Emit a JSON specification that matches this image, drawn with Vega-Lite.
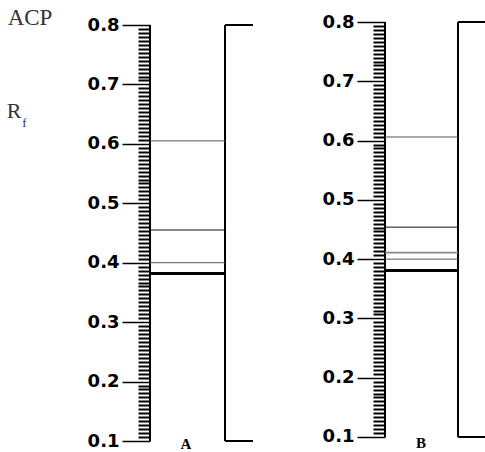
{
  "$schema": "https://vega.github.io/schema/vega-lite/v6.json",
  "width": 335,
  "height": 419,
  "autosize": "none",
  "padding": {"left": 150, "top": 22, "right": 0, "bottom": 11},
  "background": "white",
  "config": {"view": {"stroke": null}},
  "datasets": {
    "bands": [
      {"panel": "A", "rf": 0.605, "kind": "weak"},
      {"panel": "A", "rf": 0.455, "kind": "medium"},
      {"panel": "A", "rf": 0.400, "kind": "weak"},
      {"panel": "A", "rf": 0.382, "kind": "strong"},
      {"panel": "B", "rf": 0.606, "kind": "weak"},
      {"panel": "B", "rf": 0.454, "kind": "medium"},
      {"panel": "B", "rf": 0.411, "kind": "faint"},
      {"panel": "B", "rf": 0.400, "kind": "weak"},
      {"panel": "B", "rf": 0.381, "kind": "strong"}
    ],
    "plates": [
      {"panel": "A", "origin": 0.1, "front": 0.8},
      {"panel": "B", "origin": 0.1, "front": 0.8}
    ]
  },
  "layer": [
    {
      "layer": [
        {
          "data": {"name": "plates"},
          "transform": [{"filter": "datum.panel == 'A'"}],
          "mark": {"type": "rule", "color": "black", "strokeWidth": 2},
          "encoding": {
            "x": {"datum": 0, "type": "quantitative", "scale": {"domain": [0, 6.7], "nice": false, "zero": false}, "axis": null},
            "y": {
              "field": "origin", "type": "quantitative",
              "scale": {"domain": [0.1, 0.80505], "nice": false, "zero": false},
              "axis": {
                "orient": "left", "title": null, "domain": false, "grid": false, "tickCount": 500,
                "values": [0.1,0.106667,0.113333,0.12,0.126667,0.133333,0.14,0.146667,0.153333,0.16,0.166667,0.173333,0.18,0.186667,0.193333,0.2,0.206667,0.213333,0.22,0.226667,0.233333,0.24,0.246667,0.253333,0.26,0.266667,0.273333,0.28,0.286667,0.293333,0.3,0.306667,0.313333,0.32,0.326667,0.333333,0.34,0.346667,0.353333,0.36,0.366667,0.373333,0.38,0.386667,0.393333,0.4,0.406667,0.413333,0.42,0.426667,0.433333,0.44,0.446667,0.453333,0.46,0.466667,0.473333,0.48,0.486667,0.493333,0.5,0.506667,0.513333,0.52,0.526667,0.533333,0.54,0.546667,0.553333,0.56,0.566667,0.573333,0.58,0.586667,0.593333,0.6,0.606667,0.613333,0.62,0.626667,0.633333,0.64,0.646667,0.653333,0.66,0.666667,0.673333,0.68,0.686667,0.693333,0.7,0.706667,0.713333,0.72,0.726667,0.733333,0.74,0.746667,0.753333,0.76,0.766667,0.773333,0.78,0.786667,0.793333,0.8],
                "tickSize": {"condition": {"test": "abs(datum.value*10 - round(datum.value*10)) < 0.001", "value": 28}, "value": 12},
                "tickWidth": {"condition": {"test": "abs(datum.value*10 - round(datum.value*10)) < 0.001", "value": 1.5}, "value": 2},
                "tickColor": "black",
                "labelExpr": "abs(datum.value*10 - round(datum.value*10)) < 0.001 ? format(datum.value, '.1f') : ''",
                "labelFont": "DejaVu Sans", "labelFontWeight": "bold", "labelFontSize": 18, "labelColor": "black",
                "labelPadding": 3, "labelOverlap": false, "labelFlush": false, "labelBound": false
              }
            },
            "y2": {"field": "front"}
          }
        },
        {
          "data": {"name": "plates"},
          "transform": [{"filter": "datum.panel == 'A'"}],
          "mark": {"type": "rule", "color": "black", "strokeWidth": 2},
          "encoding": {
            "x": {"datum": 1.5, "type": "quantitative", "axis": null},
            "y": {"field": "origin", "type": "quantitative"},
            "y2": {"field": "front"}
          }
        },
        {
          "data": {"name": "plates"},
          "transform": [{"filter": "datum.panel == 'A'"}],
          "mark": {"type": "rule", "color": "black", "strokeWidth": 2},
          "encoding": {
            "x": {"datum": 1.5, "type": "quantitative", "axis": null},
            "x2": {"datum": 2.06},
            "y": {"field": "front", "type": "quantitative"}
          }
        },
        {
          "data": {"name": "plates"},
          "transform": [{"filter": "datum.panel == 'A'"}],
          "mark": {"type": "rule", "color": "black", "strokeWidth": 2},
          "encoding": {
            "x": {"datum": 1.5, "type": "quantitative", "axis": null},
            "x2": {"datum": 2.06},
            "y": {"field": "origin", "type": "quantitative"}
          }
        },
        {
          "data": {"name": "bands"},
          "transform": [{"filter": "datum.panel == 'A'"}],
          "mark": {"type": "rule"},
          "encoding": {
            "x": {"datum": 0, "type": "quantitative", "axis": null},
            "x2": {"datum": 1.5},
            "y": {"field": "rf", "type": "quantitative"},
            "color": {"field": "kind", "type": "nominal", "scale": {"domain": ["weak", "medium", "faint", "strong"], "range": ["#555555", "#111111", "#888888", "#000000"]}, "legend": null},
            "strokeWidth": {"condition": [{"test": "datum.kind == 'strong'", "value": 3}, {"test": "datum.kind == 'faint'", "value": 1.6}], "value": 1}
          }
        },
        {
          "data": {"name": "plates"},
          "transform": [{"filter": "datum.panel == 'A'"}],
          "mark": {"type": "text", "font": "Liberation Serif", "fontWeight": "bold", "fontSize": 15, "color": "black", "baseline": "middle", "align": "center", "dy": 3},
          "encoding": {
            "x": {"datum": 0.72, "type": "quantitative", "axis": null},
            "y": {"field": "origin", "type": "quantitative"},
            "text": {"field": "panel"}
          }
        },
        {
          "data": {"name": "plates"},
          "transform": [{"filter": "datum.panel == 'A'"}],
          "mark": {"type": "text", "font": "Liberation Serif", "fontSize": 23, "color": "#333333", "baseline": "middle", "align": "center"},
          "encoding": {
            "x": {"datum": -2.4, "type": "quantitative", "axis": null},
            "y": {"datum": 0.8126, "type": "quantitative"},
            "text": {"value": "ACP"}
          }
        },
        {
          "data": {"name": "plates"},
          "transform": [{"filter": "datum.panel == 'A'"}],
          "mark": {"type": "text", "font": "Liberation Serif", "fontSize": 22, "color": "#333333", "baseline": "middle", "align": "center"},
          "encoding": {
            "x": {"datum": -2.72, "type": "quantitative", "axis": null},
            "y": {"datum": 0.6561, "type": "quantitative"},
            "text": {"value": "R"}
          }
        },
        {
          "data": {"name": "plates"},
          "transform": [{"filter": "datum.panel == 'A'"}],
          "mark": {"type": "text", "font": "Liberation Serif", "fontSize": 13, "color": "#333333", "baseline": "middle", "align": "center"},
          "encoding": {
            "x": {"datum": -2.51, "type": "quantitative", "axis": null},
            "y": {"datum": 0.6359, "type": "quantitative"},
            "text": {"value": "f"}
          }
        }
      ]
    },
    {
      "layer": [
        {
          "data": {"name": "plates"},
          "transform": [{"filter": "datum.panel == 'B'"}],
          "mark": {"type": "rule", "color": "black", "strokeWidth": 2},
          "encoding": {
            "x": {"datum": 4.7, "type": "quantitative", "axis": null},
            "y": {
              "field": "origin", "type": "quantitative",
              "scale": {"domain": [0.09325, 0.8], "nice": false, "zero": false},
              "axis": {
                "orient": "left", "offset": -235, "title": null, "domain": false, "grid": false, "tickCount": 500,
                "values": [0.1,0.106667,0.113333,0.12,0.126667,0.133333,0.14,0.146667,0.153333,0.16,0.166667,0.173333,0.18,0.186667,0.193333,0.2,0.206667,0.213333,0.22,0.226667,0.233333,0.24,0.246667,0.253333,0.26,0.266667,0.273333,0.28,0.286667,0.293333,0.3,0.306667,0.313333,0.32,0.326667,0.333333,0.34,0.346667,0.353333,0.36,0.366667,0.373333,0.38,0.386667,0.393333,0.4,0.406667,0.413333,0.42,0.426667,0.433333,0.44,0.446667,0.453333,0.46,0.466667,0.473333,0.48,0.486667,0.493333,0.5,0.506667,0.513333,0.52,0.526667,0.533333,0.54,0.546667,0.553333,0.56,0.566667,0.573333,0.58,0.586667,0.593333,0.6,0.606667,0.613333,0.62,0.626667,0.633333,0.64,0.646667,0.653333,0.66,0.666667,0.673333,0.68,0.686667,0.693333,0.7,0.706667,0.713333,0.72,0.726667,0.733333,0.74,0.746667,0.753333,0.76,0.766667,0.773333,0.78,0.786667,0.793333,0.8],
                "tickSize": {"condition": {"test": "abs(datum.value*10 - round(datum.value*10)) < 0.001", "value": 28}, "value": 12},
                "tickWidth": {"condition": {"test": "abs(datum.value*10 - round(datum.value*10)) < 0.001", "value": 1.5}, "value": 2},
                "tickColor": "black",
                "labelExpr": "abs(datum.value*10 - round(datum.value*10)) < 0.001 ? format(datum.value, '.1f') : ''",
                "labelFont": "DejaVu Sans", "labelFontWeight": "bold", "labelFontSize": 18, "labelColor": "black",
                "labelPadding": 3, "labelOverlap": false, "labelFlush": false, "labelBound": false
              }
            },
            "y2": {"field": "front"}
          }
        },
        {
          "data": {"name": "plates"},
          "transform": [{"filter": "datum.panel == 'B'"}],
          "mark": {"type": "rule", "color": "black", "strokeWidth": 2},
          "encoding": {
            "x": {"datum": 6.16, "type": "quantitative", "axis": null},
            "y": {"field": "origin", "type": "quantitative"},
            "y2": {"field": "front"}
          }
        },
        {
          "data": {"name": "plates"},
          "transform": [{"filter": "datum.panel == 'B'"}],
          "mark": {"type": "rule", "color": "black", "strokeWidth": 2},
          "encoding": {
            "x": {"datum": 6.16, "type": "quantitative", "axis": null},
            "x2": {"datum": 6.7},
            "y": {"field": "front", "type": "quantitative"}
          }
        },
        {
          "data": {"name": "plates"},
          "transform": [{"filter": "datum.panel == 'B'"}],
          "mark": {"type": "rule", "color": "black", "strokeWidth": 2},
          "encoding": {
            "x": {"datum": 6.16, "type": "quantitative", "axis": null},
            "x2": {"datum": 6.7},
            "y": {"field": "origin", "type": "quantitative"}
          }
        },
        {
          "data": {"name": "bands"},
          "transform": [{"filter": "datum.panel == 'B'"}],
          "mark": {"type": "rule"},
          "encoding": {
            "x": {"datum": 4.7, "type": "quantitative", "axis": null},
            "x2": {"datum": 6.16},
            "y": {"field": "rf", "type": "quantitative"},
            "color": {"field": "kind", "type": "nominal", "legend": null},
            "strokeWidth": {"condition": [{"test": "datum.kind == 'strong'", "value": 3}, {"test": "datum.kind == 'faint'", "value": 1.6}], "value": 1}
          }
        },
        {
          "data": {"name": "plates"},
          "transform": [{"filter": "datum.panel == 'B'"}],
          "mark": {"type": "text", "font": "Liberation Serif", "fontWeight": "bold", "fontSize": 15, "color": "black", "baseline": "middle", "align": "center", "dy": 6},
          "encoding": {
            "x": {"datum": 5.42, "type": "quantitative", "axis": null},
            "y": {"field": "origin", "type": "quantitative"},
            "text": {"field": "panel"}
          }
        }
      ]
    }
  ],
  "resolve": {"scale": {"y": "independent"}, "axis": {"y": "independent"}}
}
